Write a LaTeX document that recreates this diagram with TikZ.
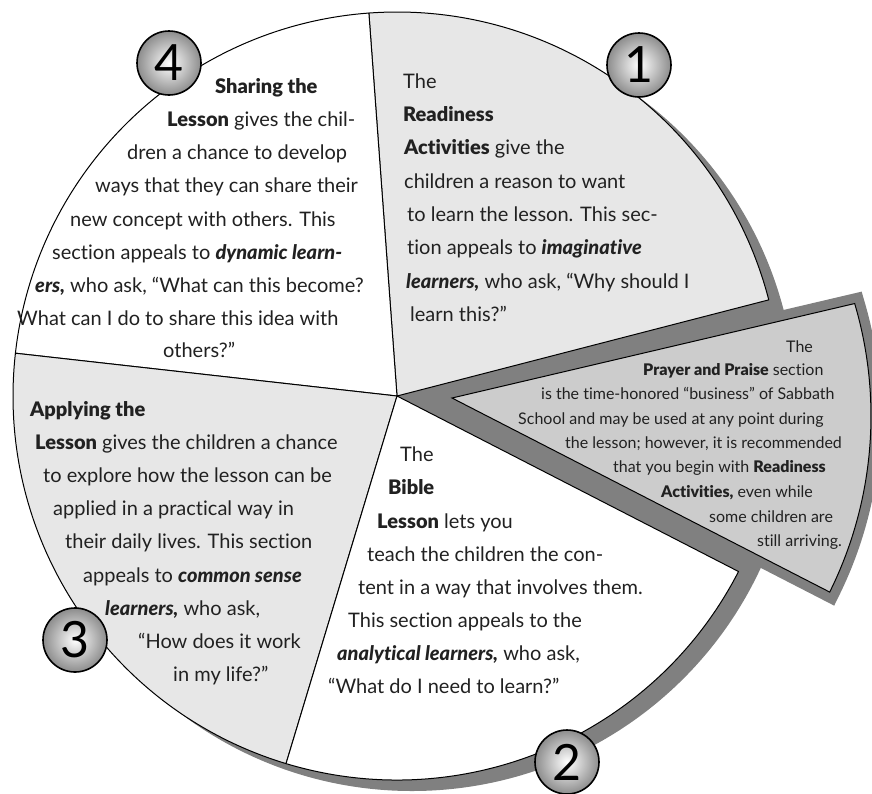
\documentclass[tikz,border=0pt]{standalone}
\usepackage{fontspec}
\usetikzlibrary{calc}
\setmainfont{Lato}[Ligatures={NoCommon},BoldFont={Lato Black},BoldItalicFont={Lato Black Italic}]
\definecolor{ink}{gray}{0.13}
\definecolor{slicelight}{gray}{0.905}
\definecolor{wedgelight}{gray}{0.80}
\definecolor{shadowgray}{gray}{0.50}
\newcommand\tln[5]{\node[#2] (#1) at (#3,#4) {#5};}
\begin{document}
\begin{tikzpicture}[x=1pt,y=-1pt,
  txt/.style={anchor=base west,inner sep=0pt,text=ink,font=\fontsize{20}{24}\selectfont},
  wtxt/.style={anchor=base west,inner sep=0pt,text=ink,font=\fontsize{16}{19}\selectfont},
  slice/.style={draw=black,line width=1pt,line join=round},
  badge/.style={circle,draw=black,line width=1.6pt,minimum size=64pt,inner sep=0pt,
    shading=radial,inner color=white,outer color=black!45,text=black,
    font=\fontsize{50}{50}\selectfont}]
\useasboundingbox (0,0) rectangle (872,793);
\coordinate (C) at (397,396);
\coordinate (S) at (412,407);
\coordinate (T) at (452,398);
\coordinate (O) at (475,416);
% shadow of the pie
\fill[shadowgray] (S) circle[radius=384];
\fill[shadowgray] (C) -- ++(-14.5:384) arc[start angle=-14.5,end angle=27.2,radius=384] -- cycle;
% pulled-out wedge: grey rim, then light face
\draw[shadowgray,line width=20pt,line join=miter]
  (T) -- ($(O)+(-16.5:396)$) arc[start angle=-16.5,end angle=26.4,radius=396] -- cycle;
\path[fill=wedgelight,draw=black,line width=1pt,line join=miter]
  (T) -- ($(O)+(-16.5:396)$) arc[start angle=-16.5,end angle=26.4,radius=396] -- cycle;
% pie slices
\path[slice,fill=slicelight] (C) -- ++(-14.5:384) arc[start angle=-14.5,end angle=-94.2,radius=384] -- cycle;
\path[slice,fill=white] (C) -- ++(-94.2:384) arc[start angle=-94.2,end angle=-173.6,radius=384] -- cycle;
\path[slice,fill=slicelight] (C) -- ++(-173.6:384) arc[start angle=-173.6,end angle=-253.2,radius=384] -- cycle;
\path[slice,fill=white] (C) -- ++(-253.2:384) arc[start angle=-253.2,end angle=-332.8,radius=384] -- cycle;
% block 4
\tln{s1}{txt}{215}{93}{\textbf{Sharing the}}
\tln{s2}{txt}{167}{126}{\textbf{Lesson} gives the chil-}
\tln{s3}{txt}{127}{159}{dren a chance to develop}
\tln{s4}{txt}{95}{192}{ways that they can share their}
\tln{s5}{txt}{70}{226}{new concept with others. This}
\tln{s6}{txt}{52}{259}{section appeals to \textbf{\textit{dynamic learn-}}}
\tln{s7}{txt}{35}{292}{\textbf{\textit{ers,}} who ask, “What can this become?}
\tln{s8}{txt}{17}{325}{What can I do to share this idea with}
\tln{s9}{txt}{163}{357}{others?”}
% block 1
\tln{r1}{txt}{403}{88}{The}
\tln{r2}{txt}{403}{121}{\textbf{Readiness}}
\tln{r3}{txt}{404}{154}{\textbf{Activities} give the}
\tln{r4}{txt}{404}{188}{children a reason to want}
\tln{r5}{txt}{407}{221}{to learn the lesson. This sec-}
\tln{r6}{txt}{407}{254}{tion appeals to \textbf{\textit{imaginative}}}
\tln{r7}{txt}{406}{288}{\textbf{\textit{learners,}} who ask, “Why should I}
\tln{r8}{txt}{410}{321}{learn this?”}
% block 3
\tln{a1}{txt}{30}{416}{\textbf{Applying the}}
\tln{a2}{txt}{35}{449}{\textbf{Lesson} gives the children a chance}
\tln{a3}{txt}{43}{482}{to explore how the lesson can be}
\tln{a4}{txt}{53}{515}{applied in a practical way in}
\tln{a5}{txt}{65}{548}{their daily lives. This section}
\tln{a6}{txt}{83}{582}{appeals to \textbf{\textit{common sense}}}
\tln{a7}{txt}{105}{615}{\textbf{\textit{learners,}} who ask,}
\tln{a8}{txt}{138}{648}{“How does it work}
\tln{a9}{txt}{173}{681}{in my life?”}
% block 2
\tln{b1}{txt}{400}{461}{The}
\tln{b2}{txt}{388}{494}{\textbf{Bible}}
\tln{b3}{txt}{377}{528}{\textbf{Lesson} lets you}
\tln{b4}{txt}{367}{561}{teach the children the con-}
\tln{b5}{txt}{358}{594}{tent in a way that involves them.}
\tln{b6}{txt}{348}{627}{This section appeals to the}
\tln{b7}{txt}{337}{660}{\textbf{\textit{analytical learners,}} who ask,}
\tln{b8}{txt}{328}{693}{“What do I need to learn?”}
% wedge text
\tln{p1}{wtxt}{786}{352}{The}
\tln{p2}{wtxt}{643}{375}{\textbf{Prayer and Praise} section}
\tln{p3}{wtxt}{541}{399}{is the time-honored “business” of Sabbath}
\tln{p4}{wtxt}{518}{424}{School and may be used at any point during}
\tln{p5}{wtxt}{565}{448}{the lesson; however, it is recommended}
\tln{p6}{wtxt}{613}{472}{that you begin with \textbf{Readiness}}
\tln{p7}{wtxt}{661}{497}{\textbf{Activities,} even while}
\tln{p8}{wtxt}{709}{522}{some children are}
\tln{p9}{wtxt}{757}{546}{still arriving.}
% number badges
\node[badge] (n4) at (169,63) {4};
\node[badge] (n1) at (639,65) {1};
\node[badge] (n3) at (75,640) {3};
\node[badge] (n2) at (567,762) {2};
\end{tikzpicture}
\end{document}
